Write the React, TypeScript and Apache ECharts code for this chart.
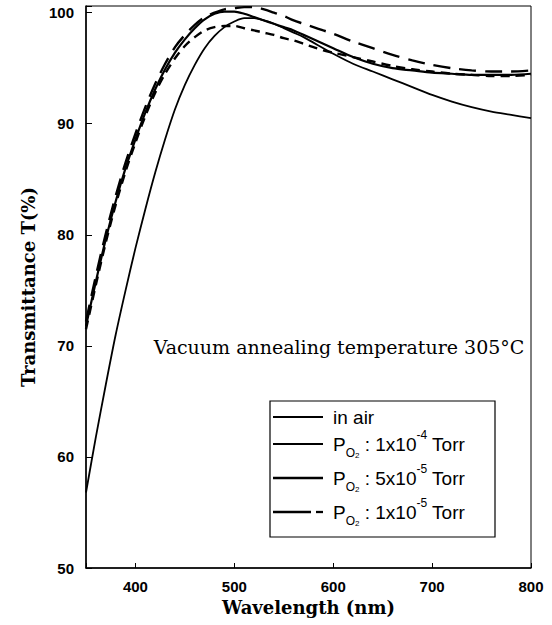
import React, { useEffect, useRef } from 'react';
import * as echarts from 'echarts';

// Wavelength (nm)
const wavelengths = [
  350, 360, 370, 380, 390, 400, 410, 420, 430, 440, 450, 460, 470, 480, 490,
  500, 510, 520, 530, 540, 550, 560, 570, 580, 590, 600, 620, 640, 660, 680,
  700, 720, 740, 760, 780, 800,
];

// Transmittance T(%)
const inAir = [
  56.8, 61.8, 66.5, 71.0, 75.0, 78.8, 82.3, 85.6, 88.6, 91.3, 93.5, 95.3, 96.8, 97.9, 98.7,
  99.2, 99.5, 99.5, 99.3, 99.0, 98.6, 98.2, 97.8, 97.3, 96.8, 96.3, 95.4, 94.7, 94.0, 93.3,
  92.6, 92.0, 91.5, 91.1, 90.8, 90.5,
];
const po2_1e4 = [
  71.8, 75.8, 79.6, 83.0, 86.0, 88.6, 91.0, 93.1, 94.9, 96.4, 97.6, 98.6, 99.4, 99.9, 100.1,
  100.1, 99.9, 99.6, 99.3, 99.0, 98.7, 98.4, 98.0, 97.6, 97.2, 96.8, 96.0, 95.4, 95.0, 94.8,
  94.6, 94.5, 94.4, 94.4, 94.4, 94.5,
];
const po2_5e5 = [
  71.5, 75.5, 79.3, 82.7, 85.7, 88.3, 90.7, 92.8, 94.5, 95.9, 97.0, 97.8, 98.4, 98.7, 98.8,
  98.8, 98.6, 98.4, 98.2, 98.0, 97.7, 97.5, 97.2, 96.9, 96.6, 96.4, 96.0, 95.6, 95.2, 94.9,
  94.7, 94.5, 94.4, 94.3, 94.3, 94.4,
];
const po2_1e5 = [
  72.2, 76.3, 80.1, 83.5, 86.5, 89.1, 91.5, 93.6, 95.4, 96.9, 98.0, 98.9, 99.6, 100.0, 100.3,
  100.4, 100.5, 100.5, 100.3, 100.0, 99.7, 99.3, 99.0, 98.7, 98.4, 98.1, 97.4, 96.8, 96.2, 95.7,
  95.3, 95.0, 94.8, 94.7, 94.7, 94.8,
];

const xTickLabels = [400, 500, 600, 700, 800];
const yTickLabels = [50, 60, 70, 80, 90, 100];

const seriesNames = [
  'in air',
  'PO2 : 1x10-4 Torr',
  'PO2 : 5x10-5 Torr',
  'PO2 : 1x10-5 Torr',
];
const legendMantissa = ['1', '5', '1'];
const legendExponent = ['-4', '-5', '-5'];
const annotationText = 'Vacuum annealing temperature 305°C';

export default function App() {
  const ref = useRef<HTMLDivElement>(null);

  useEffect(() => {
    if (!ref.current) return;
    const chart = echarts.init(ref.current, null, { renderer: 'svg' });
    const pair = (ys: number[]) => wavelengths.map((x, i) => [x, ys[i]]);

    const sans = 'Liberation Sans, Arial, sans-serif';
    const serif = 'DejaVu Serif, serif';

    const rowY = [417, 444, 478, 512];
    const lineX1 = 273;
    const lineX2 = 323;
    const textX = 333;

    const rich = {
      m: { fontSize: 19, fontFamily: sans, lineHeight: 30, fill: '#000' },
      s: { fontSize: 12, fontFamily: sans, lineHeight: 12, verticalAlign: 'bottom', fill: '#000' },
      t: { fontSize: 8, fontFamily: sans, lineHeight: 9, verticalAlign: 'bottom', fill: '#000' },
      p: { fontSize: 12, fontFamily: sans, lineHeight: 12, verticalAlign: 'top', fill: '#000' },
    };

    const legendElements: any[] = [
      {
        type: 'rect',
        shape: { x: 270, y: 401, width: 225, height: 136 },
        style: { fill: '#fff', stroke: '#000', lineWidth: 1.2 },
        z: 100,
      },
    ];
    const lineWidths = [1.8, 1.8, 2.3];
    for (let i = 0; i < 4; i++) {
      const y = rowY[i];
      if (i < 3) {
        legendElements.push({
          type: 'line',
          shape: { x1: lineX1, y1: y, x2: lineX2, y2: y },
          style: { stroke: '#000', lineWidth: lineWidths[i] },
          z: 101,
        });
      } else {
        legendElements.push({
          type: 'line',
          shape: { x1: lineX1, y1: y, x2: 311, y2: y },
          style: { stroke: '#000', lineWidth: 2.3 },
          z: 101,
        });
        legendElements.push({
          type: 'line',
          shape: { x1: 316, y1: y, x2: lineX2, y2: y },
          style: { stroke: '#000', lineWidth: 2.3 },
          z: 101,
        });
      }
      if (i === 0) {
        legendElements.push({
          type: 'text',
          x: textX,
          y,
          style: {
            text: seriesNames[0],
            fontSize: 19,
            fontFamily: sans,
            fill: '#000',
            verticalAlign: 'middle',
            align: 'left',
          },
          z: 101,
        });
      } else {
        const k = i - 1;
        legendElements.push({
          type: 'text',
          x: textX,
          y,
          style: {
            text: `{m|P}{s|O}{t|2}{m| : ${legendMantissa[k]}x10}{p|${legendExponent[k]}}{m| Torr}`,
            rich,
            fontSize: 19,
            fontFamily: sans,
            fill: '#000',
            verticalAlign: 'middle',
            align: 'left',
          },
          z: 101,
        });
      }
    }

    const option: any = {
      animation: false,
      backgroundColor: '#fff',
      grid: {
        left: 86,
        right: 21,
        top: 6,
        bottom: 57,
        show: true,
        borderColor: '#000',
        borderWidth: 1,
        backgroundColor: 'transparent',
      },
      xAxis: {
        type: 'value',
        min: 350,
        max: 800,
        splitNumber: 5,
        name: 'Wavelength (nm)',
        nameLocation: 'middle',
        nameGap: 29,
        nameTextStyle: { fontFamily: serif, fontWeight: 'bold', fontSize: 18, color: '#000' },
        axisLine: { show: true, lineStyle: { color: '#000', width: 1.5 } },
        axisTick: { show: true, inside: true, length: 5, lineStyle: { color: '#000', width: 1 } },
        axisLabel: {
          color: '#000',
          fontFamily: sans,
          fontWeight: 'bold',
          fontSize: 15,
          margin: 11,
          formatter: (v: number) => (xTickLabels.includes(v) ? String(v) : ''),
        },
        splitLine: { show: false },
      },
      yAxis: {
        type: 'value',
        min: 50,
        max: 100.6,
        interval: 10,
        name: 'Transmittance T(%)',
        nameLocation: 'middle',
        nameGap: 49,
        nameTextStyle: { fontFamily: serif, fontWeight: 'bold', fontSize: 18, color: '#000' },
        axisLine: { show: true, lineStyle: { color: '#000', width: 1.5 } },
        axisTick: { show: true, inside: true, length: 6, lineStyle: { color: '#000', width: 1 } },
        axisLabel: {
          color: '#000',
          fontFamily: sans,
          fontWeight: 'bold',
          fontSize: 15,
          margin: 12,
          formatter: (v: number) => (yTickLabels.includes(v) ? String(v) : ''),
        },
        splitLine: { show: false },
      },
      series: [
        {
          name: seriesNames[0],
          type: 'line',
          data: pair(inAir),
          symbol: 'none',
          smooth: 0.3,
          lineStyle: { color: '#000', width: 1.8, type: 'solid' },
        },
        {
          name: seriesNames[1],
          type: 'line',
          data: pair(po2_1e4),
          symbol: 'none',
          smooth: 0.3,
          lineStyle: { color: '#000', width: 2.2, type: 'solid' },
        },
        {
          name: seriesNames[2],
          type: 'line',
          data: pair(po2_5e5),
          symbol: 'none',
          smooth: 0.3,
          lineStyle: { color: '#000', width: 2.4, type: [9, 6] },
        },
        {
          name: seriesNames[3],
          type: 'line',
          data: pair(po2_1e5),
          symbol: 'none',
          smooth: 0.3,
          lineStyle: { color: '#000', width: 2.4, type: [17, 9] },
        },
      ],
      graphic: [
        {
          type: 'text',
          x: 339,
          y: 347,
          style: {
            text: annotationText,
            fontSize: 19,
            fontFamily: serif,
            fill: '#000',
            align: 'center',
            verticalAlign: 'middle',
          },
          z: 100,
        },
        ...legendElements,
      ],
    };

    chart.setOption(option);
    return () => chart.dispose();
  }, []);

  return (
    <div
      ref={ref}
      style={{ position: 'absolute', left: 0, top: 0, width: 552, height: 625, background: '#fff' }}
    />
  );
}
